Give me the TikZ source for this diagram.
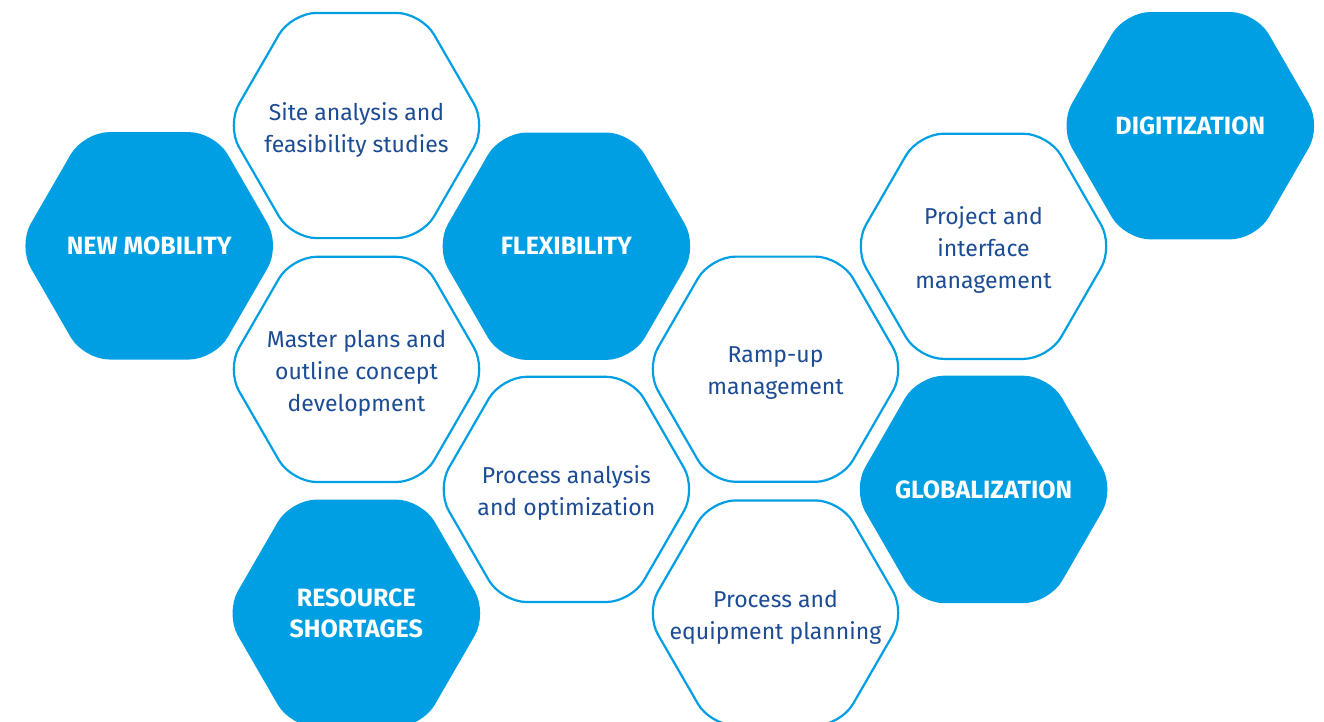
\documentclass[tikz,border=0pt]{standalone}
\usepackage{fontspec}
\setmainfont{Fira Sans}
\definecolor{hexblue}{RGB}{0,159,227}
\definecolor{txtblue}{RGB}{28,76,148}
\tikzset{
  hexline/.style={draw=hexblue, line width=2.2pt, fill=white},
  hexsolid/.style={draw=hexblue, line width=2.2pt, fill=hexblue},
  lighttext/.style={text=txtblue, align=center, font=\fontsize{23}{32}\selectfont, yshift=-4pt},
  boldtext/.style={text=white, align=center, font=\fontsize{25}{31.5}\selectfont\bfseries},
}
\newcommand\hexshape[3]{\path[#1, shift={(#2,#3)}, rounded corners=25pt]
  (0,-112.6) -- (65,-112.6) -- (130,0) -- (65,112.6) -- (-65,112.6) -- (-130,0) -- (-65,-112.6) -- cycle;}
\begin{document}
\begin{tikzpicture}[x=1pt,y=-1pt]
\useasboundingbox (0,0) rectangle (1324,721);
\hexshape{hexline}{356.5}{125.5}
\hexshape{hexsolid}{149.2}{245.8}
\hexshape{hexsolid}{566.4}{246.2}
\hexshape{hexline}{983.5}{246.3}
\hexshape{hexsolid}{1190.3}{125.7}
\hexshape{hexline}{356.5}{369.4}
\hexshape{hexline}{775.5}{369.2}
\hexshape{hexline}{566.4}{489.4}
\hexshape{hexsolid}{983.6}{489.4}
\hexshape{hexsolid}{356.3}{613.3}
\hexshape{hexline}{775.5}{613.0}
\node[lighttext] (site) at (356.5,125.5) {Site analysis and\\feasibility studies};
\node[boldtext] (newmob) at (149.2,245.8) {NEW MOBILITY};
\node[boldtext] (flex) at (566.4,246.2) {FLEXIBILITY};
\node[lighttext] (project) at (983.5,246.3) {Project and\\interface\\management};
\node[boldtext] (digit) at (1190.3,125.7) {DIGITIZATION};
\node[lighttext] (master) at (356.5,369.4) {Master plans and\\outline concept\\development};
\node[lighttext] (ramp) at (775.5,369.2) {Ramp-up\\management};
\node[lighttext] (process) at (566.4,489.4) {Process analysis\\and optimization};
\node[boldtext] (glob) at (983.6,489.4) {GLOBALIZATION};
\node[boldtext] (resource) at (356.3,613.3) {RESOURCE\\SHORTAGES};
\node[lighttext] (equip) at (775.5,613.0) {Process and\\equipment planning};
\end{tikzpicture}
\end{document}
